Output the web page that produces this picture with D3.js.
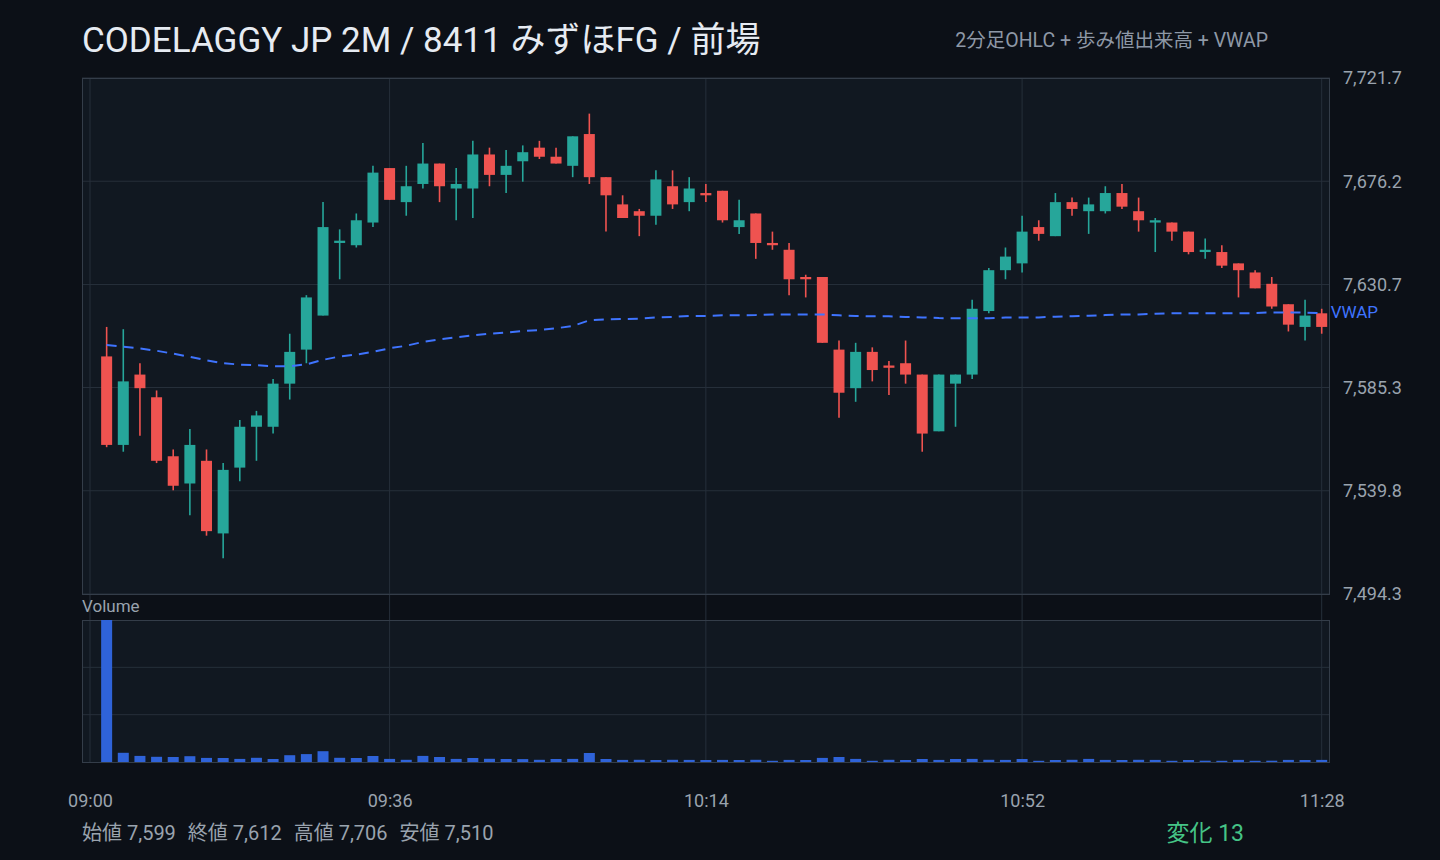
<!DOCTYPE html>
<html><head><meta charset="utf-8">
<script src="https://cdn.jsdelivr.net/npm/d3@7"></script>
<style>
html,body{margin:0;padding:0;background:#0c1017;}
svg{display:block;font-family:Roboto,"Noto Sans CJK JP",sans-serif;}
</style></head><body>
<svg id="c" width="1440" height="860"></svg>
<script>
// ---- data ----
const times = ["09:02","09:04","09:06","09:08","09:10","09:12","09:14","09:16","09:18","09:20",
"09:22","09:24","09:26","09:28","09:30","09:32","09:34","09:36","09:38","09:40",
"09:42","09:44","09:46","09:48","09:50","09:52","09:54","09:56","09:58","10:00",
"10:02","10:04","10:06","10:08","10:10","10:12","10:14","10:16","10:18","10:20",
"10:22","10:24","10:26","10:28","10:30","10:32","10:34","10:36","10:38","10:40",
"10:42","10:44","10:46","10:48","10:50","10:52","10:54","10:56","10:58","11:00",
"11:02","11:04","11:06","11:08","11:10","11:12","11:14","11:16","11:18","11:20",
"11:22","11:24","11:26","11:28"];
const opens = [7599,7560,7591,7581,7555,7543,7553,7521,7550,7568,
7568,7587,7602,7617,7649,7648,7658,7682,7667,7675,
7684,7673,7673,7688,7679,7685,7691,7687,7683,7697,
7678,7666,7663,7661,7674,7667,7671,7672,7656,7662,
7649,7646,7634,7634,7602,7585,7601,7595,7596,7591,
7566,7587,7591,7619,7637,7640,7656,7652,7667,7663,
7663,7671,7663,7658,7658,7654,7645,7645,7640,7636,
7631,7622,7612,7618];
const highs = [7612,7611,7596,7584,7558,7567,7558,7552,7571,7575,
7589,7609,7626,7667,7655,7662,7683,7682,7683,7693,
7684,7682,7694,7691,7690,7692,7694,7691,7696,7706,
7678,7670,7664,7681,7681,7678,7675,7672,7668,7662,
7654,7649,7635,7634,7606,7605,7603,7597,7606,7591,
7591,7591,7624,7638,7647,7661,7659,7671,7669,7669,
7674,7675,7669,7660,7658,7654,7651,7648,7640,7637,
7634,7622,7624,7620];
const lows = [7559,7557,7564,7552,7540,7529,7520,7510,7544,7553,
7565,7580,7596,7617,7633,7647,7656,7668,7661,7673,
7667,7659,7660,7674,7671,7676,7686,7684,7678,7675,
7654,7660,7652,7657,7664,7663,7667,7658,7653,7642,
7646,7626,7625,7605,7572,7579,7588,7582,7587,7557,
7566,7568,7589,7618,7633,7636,7650,7652,7661,7653,
7662,7664,7654,7645,7650,7644,7642,7638,7625,7629,
7620,7610,7606,7609];
const closes = [7560,7588,7585,7553,7542,7560,7522,7549,7568,7573,
7587,7601,7625,7656,7650,7659,7680,7668,7674,7684,
7674,7675,7688,7679,7683,7689,7687,7684,7696,7678,
7670,7660,7661,7677,7666,7673,7670,7659,7659,7649,
7648,7633,7633,7605,7583,7601,7593,7594,7591,7565,
7591,7591,7620,7637,7643,7654,7653,7667,7664,7666,
7671,7665,7659,7659,7654,7645,7646,7639,7637,7629,
7621,7613,7617,7612];
// volume (thousand shares)
const volumes = [1420,92,61,52,50,58,41,40,31,42,
30,68,79,108,42,40,60,31,22,61,
50,31,40,32,30,29,22,30,31,90,
30,21,22,20,22,21,20,21,20,22,
12,21,20,41,50,31,12,22,20,30,
21,30,31,22,21,30,12,20,22,31,
21,20,22,21,12,20,13,12,21,12,
13,21,20,21];
const vwap = [7604.0,7603.3,7602.5,7601.5,7600.2,7598.8,7597.3,7596.0,7595.4,7595.1,
7594.7,7594.7,7595.5,7597.5,7599.0,7599.8,7601.0,7602.6,7603.7,7605.4,
7606.5,7607.4,7608.3,7609.0,7609.5,7610.2,7610.6,7611.4,7612.4,7614.9,
7615.3,7615.5,7615.6,7616.2,7616.4,7616.8,7616.8,7617.1,7617.1,7617.2,
7617.5,7617.5,7617.5,7617.5,7617.1,7616.8,7616.7,7616.7,7616.4,7616.2,
7615.9,7615.8,7615.8,7615.8,7616.1,7616.2,7616.2,7616.5,7616.7,7616.9,
7617.2,7617.5,7617.5,7617.8,7618.0,7618.0,7618.0,7618.0,7618.0,7618.1,
7618.4,7618.4,7618.3,7618.1];
const timeTicks = ["09:00","09:36","10:14","10:52","11:28"];
const priceTicks = [7494.3,7539.8,7585.3,7630.7,7676.2,7721.7];
const statLabels = ["始値","終値","高値","安値"];
const statValues = [7599,7612,7706,7510];
const changeLabel = "変化";
const changeValue = 13;
const titleText = "CODELAGGY JP 2M / 8411 みずほFG / 前場";
const subtitleText = "2分足OHLC + 歩み値出来高 + VWAP";

// ---- drawing ----
const parse = d3.timeParse("%H:%M");
const svg = d3.select("#c");
const C = {bg:"#0c1017", plot:"#111821", grid:"#262f3a", border:"#343d49",
  up:"#26a69a", down:"#ef5350", vol:"#2f63d9", vwap:"#3f74ff",
  text:"#9aa3ae", title:"#e6ebf2", green:"#45c486"};

const L = 82, R = 1330, T = 78, B = 594, VT = 620, VB = 762;
svg.append("rect").attr("width",1440).attr("height",860).attr("fill",C.bg);

const x = d3.scaleTime().domain([parse(timeTicks[0]), parse(timeTicks[timeTicks.length-1])]).range([90, 1321.7]);
const y = d3.scaleLinear().domain([priceTicks[0], priceTicks[priceTicks.length-1]]).range([B, T]);
const vy = d3.scaleLinear().domain([0, d3.max(volumes)]).range([VB, VT]);

// panels
svg.append("rect").attr("x",L).attr("y",T).attr("width",R-L).attr("height",B-T).attr("fill",C.plot);
svg.append("rect").attr("x",L).attr("y",VT).attr("width",R-L).attr("height",VB-VT).attr("fill",C.plot);

// horizontal grid
svg.append("g").selectAll("line").data(priceTicks).join("line")
  .attr("x1",L).attr("x2",R).attr("y1",d=>y(d)).attr("y2",d=>y(d))
  .attr("stroke",C.grid).attr("stroke-width",1);
svg.append("g").selectAll("line").data([1/3,2/3].map(f=>vy.domain()[1]*f)).join("line")
  .attr("x1",L).attr("x2",R).attr("y1",d=>vy(d)).attr("y2",d=>vy(d))
  .attr("stroke",C.grid).attr("stroke-width",1);
// vertical grid
svg.append("g").selectAll("line").data(timeTicks).join("line")
  .attr("x1",d=>x(parse(d))).attr("x2",d=>x(parse(d))).attr("y1",T).attr("y2",VB)
  .attr("stroke",C.grid).attr("stroke-width",1);

// borders
svg.append("rect").attr("x",L+0.5).attr("y",T+0.5).attr("width",R-L-1).attr("height",B-T).attr("fill","none").attr("stroke",C.border);
svg.append("rect").attr("x",L+0.5).attr("y",VT+0.5).attr("width",R-L-1).attr("height",VB-VT).attr("fill","none").attr("stroke",C.border);

const candles = times.map((t,i)=>({t:parse(t), o:opens[i], h:highs[i], l:lows[i], c:closes[i], v:volumes[i], w:vwap[i]}));
const bw = 11;

// volume bars
svg.append("g").selectAll("rect").data(candles).join("rect")
  .attr("x",d=>x(d.t)-bw/2).attr("width",bw)
  .attr("y",d=>vy(d.v)).attr("height",d=>VB-vy(d.v))
  .attr("fill",C.vol);

// wicks
svg.append("g").selectAll("line").data(candles).join("line")
  .attr("x1",d=>x(d.t)).attr("x2",d=>x(d.t))
  .attr("y1",d=>y(d.h)).attr("y2",d=>y(d.l))
  .attr("stroke",d=>d.c>=d.o?C.up:C.down).attr("stroke-width",1.6);
// bodies
svg.append("g").selectAll("rect").data(candles).join("rect")
  .attr("x",d=>x(d.t)-bw/2).attr("width",bw)
  .attr("y",d=>y(Math.max(d.o,d.c)))
  .attr("height",d=>Math.max(2, Math.abs(y(d.o)-y(d.c))))
  .attr("fill",d=>d.c>=d.o?C.up:C.down);

// VWAP
const line = d3.line().x(d=>x(d.t)).y(d=>y(d.w));
svg.append("path").datum(candles).attr("d",line)
  .attr("fill","none").attr("stroke",C.vwap).attr("stroke-width",2)
  .attr("stroke-dasharray","10,7");
const last = candles[candles.length-1];
svg.append("text").attr("x",x(last.t)+9).attr("y",y(last.w)-1).attr("dy","0.32em")
  .attr("fill",C.vwap).attr("font-size",17).text("VWAP");

// price axis
const ya = svg.append("g").attr("transform",`translate(${R},0)`)
  .call(d3.axisRight(y).tickValues(priceTicks).tickFormat(d3.format(",.1f")).tickSize(0).tickPadding(13));
ya.select(".domain").remove();
ya.selectAll("text").attr("fill",C.text).attr("font-size",18).attr("font-family","Roboto,sans-serif");

// time axis
const xa = svg.append("g").attr("transform",`translate(0,${VB})`)
  .call(d3.axisBottom(x).tickValues(timeTicks.map(parse)).tickFormat(d3.timeFormat("%H:%M")).tickSize(0).tickPadding(32));
xa.select(".domain").remove();
xa.selectAll("text").attr("fill",C.text).attr("font-size",18).attr("font-family","Roboto,sans-serif");

// Volume label
svg.append("text").attr("x",L).attr("y",606).attr("dy","0.35em").attr("fill",C.text).attr("font-size",17).text("Volume");

// title
svg.append("text").attr("x",L).attr("y",52).attr("fill",C.title).attr("font-size",35).attr("font-weight",400).text(titleText);
svg.append("text").attr("x",1268).attr("y",47).attr("text-anchor","end").attr("fill","#8e98a6").attr("font-size",19.5).text(subtitleText);

// stats
const st = svg.append("text").attr("x",L).attr("y",840).attr("fill",C.text).attr("font-size",20);
statLabels.forEach((lab,i)=>{
  st.append("tspan").attr("dx", i===0?0:12).text(lab + " " + d3.format(",")(statValues[i]));
});
svg.append("text").attr("x",1244).attr("y",841).attr("text-anchor","end").attr("fill",C.green).attr("font-size",23)
  .text(changeLabel + " " + changeValue);
</script>
</body></html>
